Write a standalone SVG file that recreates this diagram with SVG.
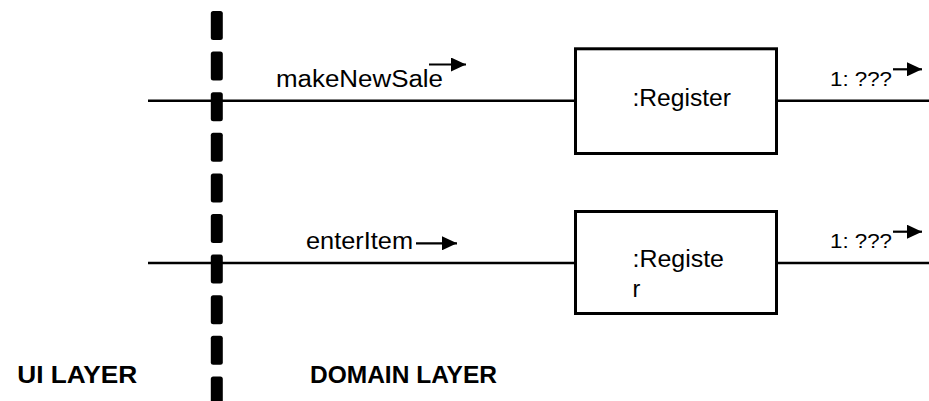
<svg xmlns="http://www.w3.org/2000/svg" width="929" height="401" viewBox="0 0 929 401">
  <style>
    .wire { stroke: #000; stroke-width: 2.5; fill: none; }
    .box { fill: #fff; stroke: #000; stroke-width: 3; }
    .lbl { font-family: "Liberation Sans", Arial, sans-serif; font-size: 23.5px; fill: #000; }
    .msg { font-family: "Liberation Sans", Arial, sans-serif; font-size: 21px; fill: #000; }
    .layer { font-family: "Liberation Sans", Arial, sans-serif; font-size: 23px; font-weight: bold; fill: #000; }
    .dash { fill: #000; }
    .ptr { stroke: #000; stroke-width: 2.2; fill: none; }
  </style>
  <defs>
    <marker id="head" viewBox="0 0 15 14" refX="15" refY="7" markerWidth="15" markerHeight="14" markerUnits="userSpaceOnUse" orient="auto">
      <path d="M0,0 L15,7 L0,14 Z" fill="#000"/>
    </marker>
  </defs>

  <!-- connectors: message lines -->
  <g id="connectors">
    <line class="wire" x1="148" y1="100.8" x2="575.5" y2="100.8"/>
    <line class="wire" x1="776.5" y1="100.8" x2="929" y2="100.8"/>
    <line class="wire" x1="148" y1="263" x2="575.5" y2="263"/>
    <line class="wire" x1="776.5" y1="263" x2="929" y2="263"/>
  </g>

  <!-- layer boundary -->
  <g id="boundary">
    <rect class="dash" x="210.8" y="11" width="12" height="29" rx="2.5"/>
    <rect class="dash" x="210.8" y="51.6" width="12" height="29" rx="2.5"/>
    <rect class="dash" x="210.8" y="92.2" width="12" height="29" rx="2.5"/>
    <rect class="dash" x="210.8" y="132.8" width="12" height="29" rx="2.5"/>
    <rect class="dash" x="210.8" y="173.4" width="12" height="29" rx="2.5"/>
    <rect class="dash" x="210.8" y="214" width="12" height="29" rx="2.5"/>
    <rect class="dash" x="210.8" y="254.6" width="12" height="29" rx="2.5"/>
    <rect class="dash" x="210.8" y="295.2" width="12" height="29" rx="2.5"/>
    <rect class="dash" x="210.8" y="335.8" width="12" height="29" rx="2.5"/>
    <rect class="dash" x="210.8" y="376.4" width="12" height="29" rx="2.5"/>
  </g>

  <!-- message labels with direction pointers -->
  <g id="msg-makeNewSale">
    <text class="lbl" x="276" y="87" textLength="167" lengthAdjust="spacingAndGlyphs">makeNewSale</text>
    <line class="ptr" x1="429" y1="64.5" x2="466" y2="64.5" marker-end="url(#head)"/>
  </g>
  <g id="msg-enterItem">
    <text class="lbl" x="306" y="249.3" textLength="107" lengthAdjust="spacingAndGlyphs">enterItem</text>
    <line class="ptr" x1="416" y1="243.3" x2="457" y2="243.3" marker-end="url(#head)"/>
  </g>
  <g id="msg-out-1">
    <text class="msg" x="830" y="86" textLength="62" lengthAdjust="spacingAndGlyphs">1: ???</text>
    <line class="ptr" x1="893" y1="69.3" x2="922" y2="69.3" marker-end="url(#head)"/>
  </g>
  <g id="msg-out-2">
    <text class="msg" x="830" y="247.7" textLength="62" lengthAdjust="spacingAndGlyphs">1: ???</text>
    <line class="ptr" x1="893" y1="231.7" x2="922" y2="231.7" marker-end="url(#head)"/>
  </g>

  <!-- objects -->
  <g id="register-1">
    <rect class="box" x="575.5" y="48.8" width="201" height="104.7"/>
    <text class="lbl" x="632.5" y="106" textLength="98.5" lengthAdjust="spacingAndGlyphs">:Register</text>
  </g>
  <g id="register-2">
    <rect class="box" x="575.5" y="211.5" width="201" height="102"/>
    <text class="lbl" x="632.5" y="266.7" textLength="91.5" lengthAdjust="spacingAndGlyphs">:Registe</text>
    <text class="lbl" x="632.5" y="297.3">r</text>
  </g>

  <!-- layer captions -->
  <g id="ui-layer">
    <text class="layer" x="17.3" y="382.7" textLength="120" lengthAdjust="spacingAndGlyphs">UI LAYER</text>
  </g>
  <g id="domain-layer">
    <text class="layer" x="310" y="382.7" textLength="187" lengthAdjust="spacingAndGlyphs">DOMAIN LAYER</text>
  </g>
</svg>
